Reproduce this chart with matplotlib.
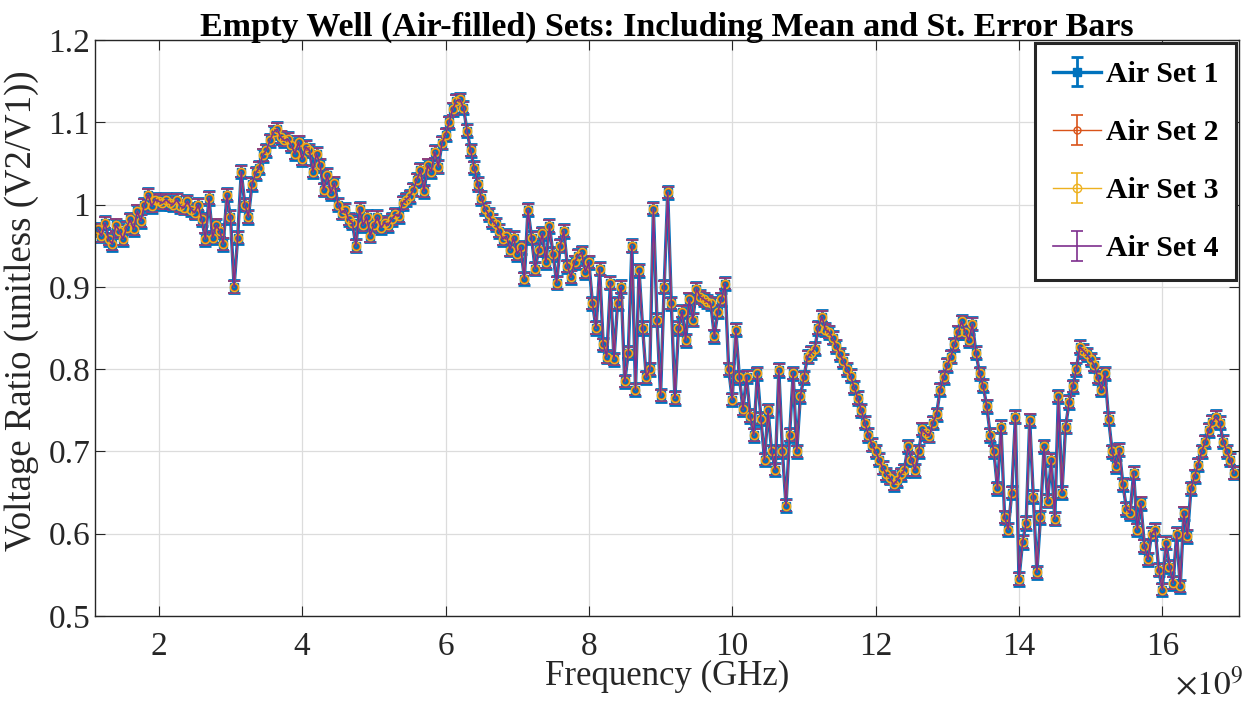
import numpy as np
import matplotlib
matplotlib.use("Agg")
import matplotlib.pyplot as plt
from matplotlib.ticker import FuncFormatter

# Frequency sweep grid (GHz), 50 MHz steps
freq_ghz = np.round(np.arange(1.15, 17.0001, 0.05), 2)

# Voltage ratio, one row per GHz
ratio = [
    # 1.15 - 1.95
    0.970, 0.962, 0.978, 0.958, 0.952, 0.975, 0.968, 0.958, 0.972, 0.982,
    0.970, 0.992, 0.980, 1.000, 1.012, 0.998, 1.006,
    # 2.0 - 2.95
    1.004, 1.002, 1.006, 1.002, 1.000, 1.006, 0.998, 0.996, 1.004, 0.994,
    0.990, 1.000, 0.982, 0.958, 1.008, 0.960, 0.975, 0.968, 0.952, 1.012,
    # 3.0 - 3.95
    0.985, 0.900, 0.960, 1.040, 1.000, 0.985, 1.025, 1.038, 1.045, 1.060,
    1.066, 1.078, 1.088, 1.092, 1.082, 1.078, 1.080, 1.072, 1.062, 1.076,
    # 4.0 - 4.95
    1.055, 1.070, 1.066, 1.040, 1.062, 1.048, 1.018, 1.036, 1.014, 1.026,
    1.000, 0.990, 0.994, 0.982, 0.978, 0.950, 0.995, 0.975, 0.985, 0.962,
    # 5.0 - 5.95
    0.975, 0.985, 0.972, 0.978, 0.975, 0.982, 0.988, 0.986, 1.002, 1.006,
    1.010, 1.018, 1.030, 1.042, 1.016, 1.048, 1.040, 1.064, 1.046, 1.075,
    # 6.0 - 6.95
    1.085, 1.100, 1.116, 1.126, 1.128, 1.118, 1.090, 1.066, 1.045, 1.025,
    1.008, 0.995, 0.988, 0.980, 0.976, 0.968, 0.958, 0.962, 0.945, 0.960,
    # 7.0 - 7.95
    0.940, 0.948, 0.910, 0.994, 0.960, 0.922, 0.945, 0.965, 0.930, 0.974,
    0.940, 0.905, 0.950, 0.968, 0.925, 0.912, 0.930, 0.938, 0.942, 0.918,
    # 8.0 - 8.95
    0.930, 0.880, 0.850, 0.922, 0.830, 0.815, 0.905, 0.812, 0.880, 0.900,
    0.785, 0.820, 0.950, 0.775, 0.920, 0.850, 0.790, 0.800, 0.995, 0.860,
    # 9.0 - 9.95
    0.768, 0.900, 1.015, 0.880, 0.765, 0.850, 0.870, 0.835, 0.885, 0.860,
    0.898, 0.888, 0.885, 0.882, 0.880, 0.840, 0.870, 0.885, 0.904, 0.800,
    # 10.0 - 10.95
    0.763, 0.848, 0.790, 0.751, 0.791, 0.743, 0.720, 0.795, 0.740, 0.690,
    0.750, 0.700, 0.678, 0.799, 0.700, 0.634, 0.720, 0.795, 0.700, 0.767,
    # 11.0 - 11.95
    0.790, 0.815, 0.820, 0.825, 0.850, 0.864, 0.848, 0.845, 0.838, 0.828,
    0.818, 0.810, 0.800, 0.792, 0.778, 0.765, 0.750, 0.735, 0.720, 0.708,
    # 12.0 - 12.95
    0.700, 0.690, 0.680, 0.672, 0.668, 0.660, 0.665, 0.672, 0.677, 0.706,
    0.690, 0.677, 0.700, 0.727, 0.722, 0.719, 0.735, 0.745, 0.775, 0.790,
    # 13.0 - 13.95
    0.805, 0.815, 0.830, 0.845, 0.858, 0.845, 0.835, 0.855, 0.820, 0.795,
    0.780, 0.755, 0.720, 0.700, 0.655, 0.730, 0.620, 0.605, 0.650, 0.742,
    # 14.0 - 14.95
    0.545, 0.590, 0.613, 0.738, 0.645, 0.553, 0.620, 0.706, 0.640, 0.690,
    0.618, 0.767, 0.650, 0.730, 0.760, 0.779, 0.800, 0.827, 0.822, 0.818,
    # 15.0 - 15.95
    0.812, 0.805, 0.790, 0.775, 0.795, 0.740, 0.700, 0.682, 0.702, 0.660,
    0.630, 0.625, 0.674, 0.605, 0.637, 0.585, 0.569, 0.600, 0.605, 0.556,
    # 16.0 - 16.95
    0.532, 0.589, 0.560, 0.540, 0.600, 0.536, 0.625, 0.597, 0.655, 0.670,
    0.684, 0.700, 0.712, 0.726, 0.736, 0.742, 0.735, 0.712, 0.700, 0.690,
    # 17.0
    0.674,
]

# The four air sets sit on top of each other within the line width
set_labels = ["Air Set 1", "Air Set 2", "Air Set 3", "Air Set 4"]
set_std_err = [0.008, 0.007, 0.007, 0.007]

plt.rcParams["font.family"] = ["Liberation Serif", "DejaVu Serif"]
plt.rcParams["mathtext.fontset"] = "stix"

fig = plt.figure(figsize=(12.47, 7.03), dpi=100)
ax = fig.add_axes([0.0762, 0.1238, 0.9174, 0.8192])

freq_hz = freq_ghz * 1e9
y = np.array(ratio)

styles = [
    dict(color="#0072BD", marker="s", ms=6, lw=2.4, elinewidth=2.0, capthick=2.0),
    dict(color="#D95319", marker="o", ms=5, lw=1.0, elinewidth=1.2, capthick=1.2,
         mfc="none"),
    dict(color="#EDB120", marker="o", ms=6, lw=1.0, elinewidth=1.2, capthick=1.2,
         mfc="none"),
    dict(color="#7E2F8E", marker="", ms=0, lw=1.2, elinewidth=1.2, capthick=1.2),
]

for label, se, st in zip(set_labels, set_std_err, styles):
    ax.errorbar(freq_hz, y, yerr=np.full(len(y), se), label=label,
                capsize=4.5, **st)

ax.set_xlim(1.11e9, 17.07e9)
ax.set_ylim(0.5, 1.2)
ax.set_xticks(np.arange(2, 17, 2) * 1e9)
ax.set_yticks(np.arange(0.5, 1.21, 0.1))
ax.xaxis.set_major_formatter(FuncFormatter(lambda v, p: "%g" % (v / 1e9)))
ax.yaxis.set_major_formatter(FuncFormatter(lambda v, p: "%g" % round(v, 1)))

ax.grid(True, color="#dcdcdc", linewidth=0.9)
ax.set_axisbelow(True)
ax.tick_params(direction="in", top=True, right=True, labelsize=24,
               length=7, color="#262626", labelcolor="#262626")
ax.tick_params(axis="x", pad=11)
for sp in ax.spines.values():
    sp.set_color("#262626")
    sp.set_linewidth(1.0)

ax.set_xlabel("Frequency (GHz)", fontsize=25, color="#262626", labelpad=-1)
ax.set_ylabel("Voltage Ratio (unitless (V2/V1))", fontsize=26.5,
              color="#262626")
ax.yaxis.set_label_coords(-0.049, 0.53)
ax.set_title("Empty Well (Air-filled) Sets: Including Mean and St. Error Bars",
             fontsize=24.5, fontweight="bold", pad=3)
fig.text(0.997, 0.002, r"$\times10^{9}$", ha="right", va="bottom",
         fontsize=24, color="#262626")

leg = ax.legend(loc="upper right", prop={"weight": "bold", "size": 21.5},
                fancybox=False, framealpha=1, edgecolor="#262626",
                handlelength=1.6, handletextpad=0.15, borderpad=0.6,
                labelspacing=1.04, borderaxespad=0.1)
leg.get_frame().set_linewidth(2.2)

fig.savefig("out.png", dpi=100)
